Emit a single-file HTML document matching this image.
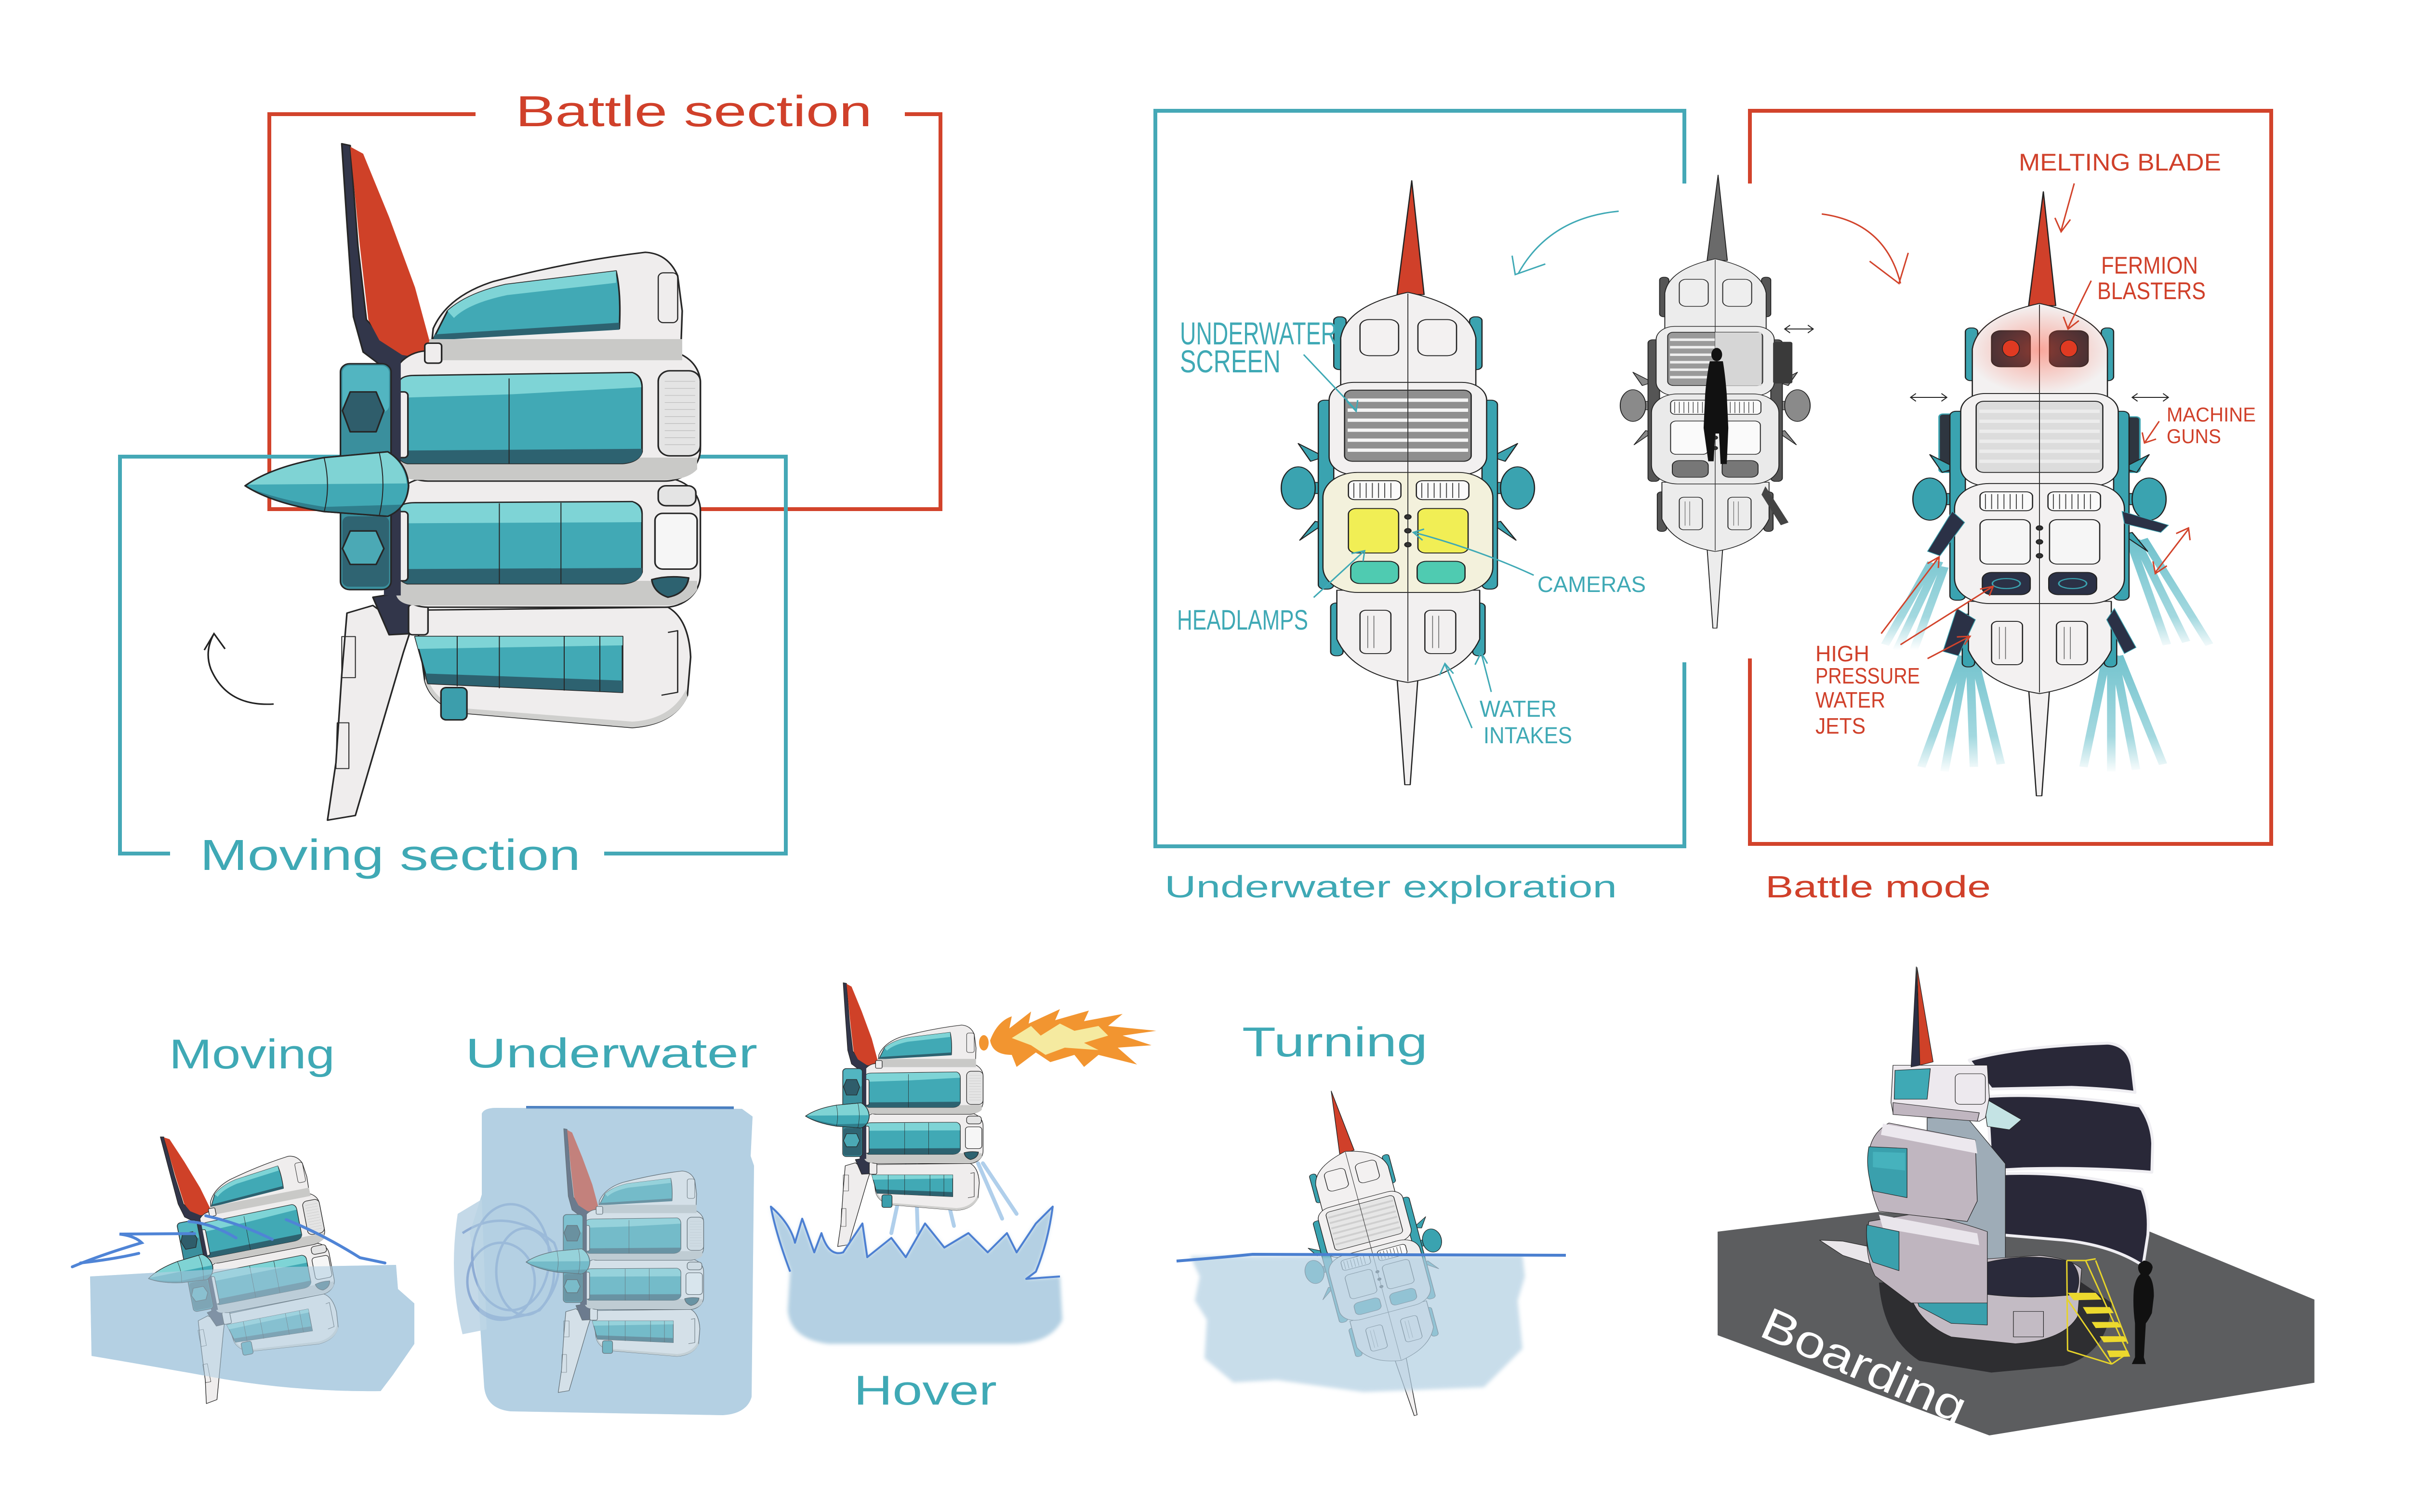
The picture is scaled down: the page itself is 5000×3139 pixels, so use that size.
<!DOCTYPE html>
<html><head><meta charset="utf-8"><style>html,body{margin:0;padding:0;background:#fff}svg{display:block}text{font-family:"Liberation Sans",sans-serif}</style></head><body>
<svg xmlns="http://www.w3.org/2000/svg" xmlns:xlink="http://www.w3.org/1999/xlink" width="5000" height="3139" viewBox="0 0 5000 3139">
<defs>
<!-- side view ship -->
<g id="sv" transform="scale(1.346,1.218)" stroke="#262626" stroke-width="2.5" stroke-linejoin="round">
 <polygon points="527,245 540,248 552,420 565,545 600,585 655,610 630,640 590,625 560,600 545,540 535,380" fill="#32364a"/>
 <polygon points="540,250 560,262 600,370 640,490 662,580 658,612 620,605 585,580 568,545 555,420" fill="#cf4128" stroke="none"/>
 <path d="M535,1045 L575,1032 L632,1078 L622,1112 L548,1390 L505,1398 L518,1300 L527,1150 Z" fill="#efeded"/>
 <path d="M527,1085 L548,1085 L548,1155 L527,1155 Z M520,1232 L538,1232 L538,1310 L518,1310 Z" fill="none" stroke-width="1.5"/>
 <path d="M575,1018 L632,1008 L634,1080 L600,1082 Z" fill="#32364a"/>
 <!-- pod3 -->
 <path d="M640,1040 L1030,1035 Q1062,1055 1065,1120 L1060,1185 Q1040,1235 975,1240 L710,1215 Q665,1200 655,1160 Z" fill="#efeded"/>
 <path d="M658,1150 Q668,1195 712,1207 L975,1230 Q1035,1226 1058,1175 L1060,1188 Q1040,1235 975,1240 L710,1215 Q665,1200 655,1160 Z" fill="#cfcfcd" stroke="none"/>
 <path d="M640,1085 L960,1085 L960,1180 L660,1165 Z" fill="#41a9b5"/>
 <path d="M640,1085 L960,1085 L960,1100 L645,1106 Z" fill="#7ed4d6" stroke="none"/>
 <path d="M656,1148 L960,1160 L960,1180 L660,1165 Z" fill="#2d6270" stroke="none"/>
 <path d="M705,1085 V1170 M770,1085 V1173 M870,1085 V1177 M925,1085 V1179" fill="none" stroke-width="1.5"/>
 <path d="M1030,1078 L1045,1075 L1045,1180 L1020,1185" fill="none" stroke-width="2"/>
 <rect x="680" y="1172" width="40" height="55" rx="8" fill="#3c9eac"/>
 <rect x="630" y="1030" width="30" height="52" rx="6" fill="#efeded"/>
 <!-- pod2 -->
 <rect x="605" y="815" width="475" height="220" rx="55" fill="#efeded"/>
 <path d="M610,990 H1075 V1005 Q1060,1032 1025,1032 H640 Q612,1030 610,1010 Z" fill="#c9c9c7" stroke="none"/>
 <path d="M615,868 Q618,857 640,857 L975,855 Q990,860 990,875 L990,975 Q985,993 960,995 L628,995 Q615,990 615,980 Z" fill="#41a9b5"/>
 <path d="M617,866 Q620,858 640,858 L975,856 Q988,861 989,876 L989,890 L617,892 Z" fill="#7ed4d6" stroke="none"/>
 <path d="M615,970 L990,968 L990,978 Q985,993 960,995 L628,995 Q615,990 615,982 Z" fill="#2d6270" stroke="none"/>
 <path d="M770,858 V995 M865,857 V995" fill="none" stroke-width="1.5"/>
 <rect x="1010" y="875" width="65" height="95" rx="12" fill="#f6f6f6"/>
 <rect x="1015" y="828" width="58" height="34" rx="12" fill="#e4e4e4"/>
 <path d="M1005,988 Q1030,980 1062,985 Q1058,1012 1030,1018 Q1008,1010 1005,988 Z" fill="#2d6270"/>
 <rect x="605" y="872" width="24" height="118" rx="6" fill="#efeded"/>
 <!-- pod1 -->
 <rect x="605" y="598" width="475" height="222" rx="55" fill="#efeded"/>
 <path d="M610,780 H1075 V800 Q1060,818 1025,818 H640 Q612,815 610,800 Z" fill="#c9c9c7" stroke="none"/>
 <path d="M615,652 Q618,640 640,640 L975,635 Q990,640 990,660 L990,770 Q985,788 960,790 L628,790 Q615,786 615,775 Z" fill="#41a9b5"/>
 <path d="M617,650 Q620,641 640,641 L975,636 Q988,641 989,660 L790,672 L617,678 Z" fill="#7ed4d6" stroke="none"/>
 <path d="M615,768 L990,765 L990,772 Q985,788 960,790 L628,790 Q615,786 615,775 Z" fill="#2d6270" stroke="none"/>
 <path d="M785,645 V790" fill="none" stroke-width="1.5"/>
 <rect x="1015" y="632" width="65" height="145" rx="18" fill="#e4e4e4"/>
 <path d="M1025,650H1072M1025,662H1072M1025,674H1072M1025,686H1072M1025,698H1072M1025,710H1072M1025,722H1072M1025,734H1072M1025,746H1072M1025,758H1072" stroke="#bbb" stroke-width="1" fill="none"/>
 <rect x="605" y="668" width="24" height="112" rx="6" fill="#efeded"/>
 <!-- top pod -->
 <path d="M665,592 L668,560 Q690,505 760,480 Q880,445 995,430 Q1030,432 1045,470 L1052,530 L1050,592 Z" fill="#efeded"/>
 <path d="M668,578 L690,530 Q720,500 780,485 L950,462 Q958,500 955,560 L720,572 Z" fill="#41a9b5"/>
 <path d="M690,530 Q720,500 780,485 L950,462 L950,482 L782,503 Q722,517 700,542 Z" fill="#7ed4d6" stroke="none"/>
 <path d="M670,570 L955,550 L955,562 L668,580 Z" fill="#2d6270" stroke="none"/>
 <rect x="1015" y="465" width="30" height="85" rx="8" fill="none" stroke-width="1.8"/>
 <rect x="662" y="578" width="390" height="36" fill="#c9c9c7" stroke="none"/>
 <rect x="655" y="585" width="26" height="34" rx="5" fill="#efeded"/>
 <!-- column -->
 <rect x="592" y="605" width="26" height="410" fill="#32364a" stroke="none"/>
 <rect x="525" y="620" width="78" height="385" rx="14" fill="#3a8f9d"/>
 <rect x="528" y="623" width="72" height="80" rx="12" fill="#52b5c1" stroke="none"/>
 <polygon points="540,668 580,668 592,700 580,736 540,736 528,700" fill="#2f5d6b"/>
 <rect x="528" y="880" width="72" height="120" rx="10" fill="#2f6472" stroke="none"/>
 <polygon points="540,905 580,905 592,935 580,962 540,962 528,935" fill="#4ba9b5"/>
 <!-- cone -->
 <path d="M378,828 Q420,795 500,780 L598,770 Q628,790 630,828 Q628,866 598,880 L500,872 Q420,858 378,828 Z" fill="#41a9b5"/>
 <path d="M380,826 Q420,796 500,781 L598,771 Q624,790 627,824 Z" fill="#7fd3d4" stroke="none"/>
 <path d="M385,832 Q430,852 500,864 L622,860 Q612,875 598,880 L500,872 Q420,858 385,832 Z" fill="#2f7e8c" stroke="none"/>
 <path d="M378,828 Q420,795 500,780 L598,770 Q628,790 630,828 Q628,866 598,880 L500,872 Q420,858 378,828 Z" fill="none"/>
 <path d="M500,781 Q510,828 500,872 M585,772 Q596,826 585,878" fill="none" stroke-width="1.5"/>
</g>

<!-- top view ship, centered x=0 -->
<g id="tv" stroke="#222" stroke-width="1.6" stroke-linejoin="round">
 <g style="fill:var(--fin)">
  <path d="M-108,692 L-142,668 L-126,700 Z"/>
  <path d="M-108,812 L-140,842 L-120,808 Z"/>
  <path d="M108,692 L142,668 L126,700 Z"/>
  <path d="M108,812 L140,842 L120,808 Z"/>
  <rect x="-130" y="738" width="24" height="20"/>
  <rect x="106" y="738" width="24" height="20"/>
  <ellipse cx="-142" cy="748" rx="22" ry="38"/>
  <ellipse cx="142" cy="748" rx="22" ry="38"/>
 </g>
 <path d="M5,195 L21,400 L-14,400 Z" style="fill:var(--spike)"/>
 <g style="fill:var(--acc)">
  <rect x="-96" y="440" width="16" height="95" rx="7"/>
  <rect x="80" y="440" width="16" height="95" rx="7"/>
  <rect x="-116" y="590" width="20" height="340" rx="8"/>
  <rect x="96" y="590" width="20" height="340" rx="8"/>
  <rect x="-100" y="955" width="16" height="95" rx="7"/>
  <rect x="84" y="955" width="16" height="95" rx="7"/>
 </g>
 <g style="fill:var(--body)">
  <path d="M-14,1090 L13,1090 L3,1282 L-4,1282 Z"/>
  <path d="M-92,932 L93,932 L93,1020 Q73,1082 0,1098 Q-72,1082 -92,1020 Z"/>
  <path d="M-87,568 L-87,478 Q-80,420 0,396 Q80,420 88,478 L88,568 Z"/>
  <rect x="-102" y="558" width="204" height="166" rx="32"/>
 </g>
 <rect x="-110" y="720" width="220" height="216" rx="45" style="fill:var(--sec)"/>
 <rect x="-62" y="445" width="50" height="65" rx="12" style="fill:var(--win)"/>
 <rect x="13" y="445" width="50" height="65" rx="12" style="fill:var(--win)"/>
 <rect x="-82" y="572" width="164" height="128" rx="10" style="fill:var(--scr)"/>
 <path d="M-78,590H78M-78,608H78M-78,626H78M-78,644H78M-78,662H78M-78,680H78" style="stroke:var(--stripe)" stroke-width="6" fill="none"/>
 <path d="M0,398V1096" stroke="#333" stroke-width="1.2"/>
 <rect x="-77" y="735" width="68" height="34" rx="8" fill="#fafafa"/>
 <rect x="11" y="735" width="68" height="34" rx="8" fill="#fafafa"/>
 <path d="M-70,739V766M-62,739V766M-54,739V766M-46,739V766M-38,739V766M-30,739V766M-22,739V766M18,739V766M26,739V766M34,739V766M42,739V766M50,739V766M58,739V766M66,739V766" stroke="#444" stroke-width="1.2"/>
 <rect x="-77" y="785" width="65" height="80" rx="10" style="fill:var(--lamp)"/>
 <rect x="13" y="785" width="65" height="80" rx="10" style="fill:var(--lamp)"/>
 <rect x="-74" y="880" width="62" height="40" rx="12" style="fill:var(--lamp2)"/>
 <rect x="12" y="880" width="62" height="40" rx="12" style="fill:var(--lamp2)"/>
 <circle cx="0" cy="800" r="4" fill="#333"/><circle cx="0" cy="825" r="4" fill="#333"/><circle cx="0" cy="850" r="4" fill="#333"/>
 <rect x="-62" y="968" width="40" height="78" rx="8" fill="none"/>
 <rect x="22" y="968" width="40" height="78" rx="8" fill="none"/>
 <path d="M-52,978V1036M-44,978V1036M32,978V1036M40,978V1036" stroke="#666" stroke-width="1"/>
</g>
<radialGradient id="glow"><stop offset="0" stop-color="#ff4a30" stop-opacity="0.45"/><stop offset="1" stop-color="#ff4a30" stop-opacity="0"/></radialGradient>
<linearGradient id="jl" gradientUnits="userSpaceOnUse" x1="0" y1="1040" x2="0" y2="1262"><stop offset="0" stop-color="#6fc1cc" stop-opacity="1"/><stop offset="0.7" stop-color="#7cc8d2" stop-opacity="0.7"/><stop offset="1" stop-color="#7cc8d2" stop-opacity="0"/></linearGradient>
<linearGradient id="ju" gradientUnits="userSpaceOnUse" x1="0" y1="840" x2="0" y2="1040"><stop offset="0" stop-color="#6fc1cc" stop-opacity="1"/><stop offset="0.7" stop-color="#7cc8d2" stop-opacity="0.7"/><stop offset="1" stop-color="#7cc8d2" stop-opacity="0"/></linearGradient>
<filter id="soft" x="-5%" y="-5%" width="110%" height="110%"><feGaussianBlur stdDeviation="4"/></filter>
</defs>

<!-- ================= TOP LEFT ================= -->
<g fill="none" stroke-width="8">
 <path d="M987,237 H559 V1057 H1952 V237 H1878" stroke="#d2432b"/>
 <path d="M353,1772 H249 V948 H1631 V1772 H1254" stroke="#45a8b6"/>
</g>
<use href="#sv" xlink:href="#sv"/>
<g transform="scale(1.346,1.218)" fill="none" stroke="#222" stroke-width="2.5">
 <path d="M422,1200 Q350,1205 325,1140 Q315,1110 330,1080"/>
 <path d="M315,1108 L330,1080 L347,1106"/>
</g>
<text x="1070" y="262" font-size="90" fill="#d0402a" textLength="740" lengthAdjust="spacingAndGlyphs">Battle section</text>
<text x="415" y="1806" font-size="90" fill="#3fa9b5" textLength="790" lengthAdjust="spacingAndGlyphs">Moving section</text>

<!-- ================= TOP RIGHT ================= -->
<g fill="none" stroke-width="8">
 <path d="M3496,381 V230 H2398 V1757 H3496 V1375" stroke="#45a8b6"/>
 <path d="M3632,381 V230 H4714 V1752 H3632 V1367" stroke="#d2432b"/>
</g>
<g transform="translate(2350,150) scale(1.6026,1.1538)">
 <!-- battle jets -->
 <g stroke-width="11" stroke-linecap="butt" fill="none">
  <path stroke="url(#ju)" d="M1045,880 L990,1040 M1035,882 L975,1030 M1052,890 L1012,1040"/>
  <path stroke="url(#jl)" d="M1075,1050 L1022,1250 M1080,1050 L1052,1258 M1085,1050 L1090,1250 M1090,1052 L1125,1245"/>
  <path stroke="url(#jl)" d="M1262,1050 L1232,1250 M1268,1050 L1268,1258 M1272,1050 L1300,1255 M1278,1050 L1335,1245"/>
  <path stroke="url(#ju)" d="M1292,842 L1340,1030 M1300,842 L1365,1025 M1310,840 L1395,1030"/>
 </g>
 <!-- underwater ship -->
 <use href="#tv" xlink:href="#tv" transform="translate(357,0)" style="--body:#f2f0f0;--spike:#d0402a;--acc:#3aa3b0;--fin:#3aa3b0;--scr:#8f8f8f;--stripe:#f4f4f4;--sec:#f3f1dc;--lamp:#f1ee55;--lamp2:#4fcbb1;--win:#f3f1f1"/>
 <!-- gray ship -->
 <use href="#tv" xlink:href="#tv" transform="translate(755,38.75) scale(0.75)" style="--body:#ececec;--spike:#6a6a6a;--acc:#555;--fin:#8a8a8a;--scr:#9a9a9a;--stripe:#eee;--sec:#eaeaea;--lamp:#fafafa;--lamp2:#777;--win:#eee"/>
 <rect x="755" y="468" width="60" height="96" fill="#d6d6d6"/>
 <rect x="830" y="485" width="25" height="75" rx="3" fill="#3a3a3a"/>
 <polygon points="820,745 850,810 840,815 815,760" fill="#444"/>
 <ellipse cx="757" cy="508" rx="7" ry="12" fill="#111"/>
 <path d="M748,520 Q744,545 742,580 L740,640 L746,700 L753,700 L755,650 L760,650 L762,705 L770,705 L772,640 L770,580 Q768,545 765,520 Z" fill="#111"/>
 <!-- battle ship -->
 <rect x="1045" y="615" width="35" height="105" rx="5" fill="#2e3640" stroke="#3aa3b0" stroke-width="2"/>
 <rect x="1270" y="620" width="35" height="100" rx="5" fill="#2e3640" stroke="#3aa3b0" stroke-width="2"/>
 <use href="#tv" xlink:href="#tv" transform="translate(1175,20)" style="--body:#f3f1f1;--spike:#d0402a;--acc:#3aa3b0;--fin:#3aa3b0;--scr:#dcdcdc;--stripe:#ececec;--sec:#f3f1f1;--lamp:#f6f6f6;--lamp2:#2b3146;--win:#2d2d35"/>
 <ellipse cx="1175" cy="500" rx="95" ry="80" fill="url(#glow)"/>
 <ellipse cx="1138" cy="497" rx="11" ry="15" fill="#e03a22" stroke="#222" stroke-width="1"/>
 <ellipse cx="1213" cy="497" rx="11" ry="15" fill="#e03a22" stroke="#222" stroke-width="1"/>
 <ellipse cx="1132" cy="920" rx="18" ry="9" fill="none" stroke="#3aa3b0" stroke-width="2"/>
 <ellipse cx="1218" cy="920" rx="18" ry="9" fill="none" stroke="#3aa3b0" stroke-width="2"/>
 <g fill="#2b3146" stroke="#3aa3b0" stroke-width="1">
  <polygon points="1062,790 1030,862 1046,870 1078,810"/>
  <polygon points="1282,790 1342,815 1332,828 1285,812"/>
  <polygon points="1068,965 1050,1042 1070,1050 1092,985"/>
  <polygon points="1272,965 1300,1035 1285,1046 1262,985"/>
 </g>
 <!-- annotations teal -->
 <g fill="none" stroke="#3fa9b5" stroke-width="3">
  <path d="M630,250 Q540,262 500,362" vector-effect="non-scaling-stroke"/>
  <path d="M492,330 L496,364 L535,345" vector-effect="non-scaling-stroke"/>
  <path d="M222,508 L290,608 M278,592 L290,610 L292,590" vector-effect="non-scaling-stroke"/>
  <path d="M235,945 L300,862 M284,866 L301,861 L299,880" vector-effect="non-scaling-stroke"/>
  <path d="M520,905 Q450,860 365,828 M378,822 L364,828 L376,842" vector-effect="non-scaling-stroke"/>
  <path d="M440,1180 L405,1065 M398,1085 L405,1064 L416,1082" vector-effect="non-scaling-stroke"/>
  <path d="M465,1115 L452,1045 M444,1066 L452,1044 L460,1064" vector-effect="non-scaling-stroke"/>
 </g>
 <!-- annotations red -->
 <g fill="none" stroke="#d2432b" stroke-width="3">
  <path d="M893,255 Q975,270 995,380" vector-effect="non-scaling-stroke"/>
  <path d="M955,340 L993,380 L1005,325" vector-effect="non-scaling-stroke"/>
  <path d="M1220,200 L1203,285 M1195,262 L1203,287 L1215,265" vector-effect="non-scaling-stroke"/>
  <path d="M1242,375 L1212,460 M1206,440 L1212,462 L1226,447" vector-effect="non-scaling-stroke"/>
  <path d="M1330,628 L1312,665 M1308,648 L1311,667 L1326,660" vector-effect="non-scaling-stroke"/>
  <path d="M970,1010 L1045,872 M1030,884 L1045,872 L1044,892" vector-effect="non-scaling-stroke"/>
  <path d="M995,1030 L1115,925 M1098,930 L1115,925 L1110,942" vector-effect="non-scaling-stroke"/>
  <path d="M1030,1055 L1085,1015 M1068,1016 L1085,1015 L1078,1030" vector-effect="non-scaling-stroke"/>
  <path d="M1325,900 L1368,822 M1322,880 L1325,902 L1340,888 M1352,830 L1368,820 L1370,842" vector-effect="non-scaling-stroke"/>
 </g>
 <g fill="none" stroke="#222" stroke-width="2">
  <path d="M845,462 H882 M852,455 L845,462 L852,469 M875,455 L882,462 L875,469" vector-effect="non-scaling-stroke"/>
  <path d="M1008,585 H1055 M1015,578 L1008,585 L1015,592 M1048,578 L1055,585 L1048,592" vector-effect="non-scaling-stroke"/>
  <path d="M1295,585 H1342 M1302,578 L1295,585 L1302,592 M1335,578 L1342,585 L1335,592" vector-effect="non-scaling-stroke"/>
 </g>
</g>
<!-- labels top right -->
<g fill="#3fa9b5" font-size="64">
 <text x="2449" y="715" font-size="66" textLength="326" lengthAdjust="spacingAndGlyphs">UNDERWATER</text>
 <text x="2449" y="773" font-size="66" textLength="209" lengthAdjust="spacingAndGlyphs">SCREEN</text>
 <text x="2443" y="1307" font-size="58" textLength="272" lengthAdjust="spacingAndGlyphs">HEADLAMPS</text>
 <text x="3191" y="1229" font-size="46" textLength="225" lengthAdjust="spacingAndGlyphs">CAMERAS</text>
 <text x="3071" y="1488" font-size="48" textLength="160" lengthAdjust="spacingAndGlyphs">WATER</text>
 <text x="3079" y="1543" font-size="48" textLength="184" lengthAdjust="spacingAndGlyphs">INTAKES</text>
 <text x="2417" y="1863" textLength="939" lengthAdjust="spacingAndGlyphs">Underwater exploration</text>
</g>
<g fill="#d0402a" font-size="50">
 <text x="4190" y="354" textLength="420" lengthAdjust="spacingAndGlyphs">MELTING BLADE</text>
 <text x="4361" y="568" textLength="201" lengthAdjust="spacingAndGlyphs">FERMION</text>
 <text x="4353" y="621" textLength="225" lengthAdjust="spacingAndGlyphs">BLASTERS</text>
 <text x="4497" y="875" font-size="42" textLength="185" lengthAdjust="spacingAndGlyphs">MACHINE</text>
 <text x="4497" y="920" font-size="42" textLength="113" lengthAdjust="spacingAndGlyphs">GUNS</text>
 <text x="3768" y="1373" font-size="46" textLength="112" lengthAdjust="spacingAndGlyphs">HIGH</text>
 <text x="3768" y="1419" font-size="46" textLength="217" lengthAdjust="spacingAndGlyphs">PRESSURE</text>
 <text x="3768" y="1469" font-size="46" textLength="145" lengthAdjust="spacingAndGlyphs">WATER</text>
 <text x="3768" y="1523" font-size="46" textLength="104" lengthAdjust="spacingAndGlyphs">JETS</text>
 <text x="3664" y="1863" font-size="64" textLength="468" lengthAdjust="spacingAndGlyphs">Battle mode</text>
</g>

<!-- ================= BOTTOM ROW ================= -->
<g fill="#3fa9b5" font-size="86">
 <text x="351" y="2218" textLength="344" lengthAdjust="spacingAndGlyphs">Moving</text>
 <text x="966" y="2216" textLength="606" lengthAdjust="spacingAndGlyphs">Underwater</text>
 <text x="1772" y="2916" textLength="297" lengthAdjust="spacingAndGlyphs">Hover</text>
 <text x="2578" y="2193" textLength="385" lengthAdjust="spacingAndGlyphs">Turning</text>
</g>

<!-- Moving scene -->
<path d="M187,2650 L500,2632 L822,2626 L826,2676 L860,2706 L860,2790 L815,2855 L790,2888 Q600,2890 420,2855 Q280,2830 190,2815 Z" fill="#b4d0e3"/>
<use href="#sv" xlink:href="#sv" transform="translate(493,2615) rotate(-11) scale(0.4) translate(-981,-1000)"/>
<path d="M187,2650 L500,2632 L822,2626 L826,2676 L860,2706 L860,2790 L815,2855 L790,2888 Q600,2890 420,2855 Q280,2830 190,2815 Z" fill="#b4d0e3" opacity="0.6"/>
<g fill="none" stroke="#4f84d6" stroke-width="6" stroke-linecap="round">
 <path d="M150,2630 Q210,2605 294,2580 Q280,2566 248,2562 L404,2561"/>
 <path d="M167,2622 Q237,2614 288,2602"/>
 <path d="M392,2536 Q438,2539 490,2570"/>
 <path d="M427,2524 Q496,2539 565,2573"/>
 <path d="M594,2532 Q669,2562 747,2611 L799,2622"/>
</g>

<!-- Underwater scene -->
<path d="M1000,2312 Q1005,2300 1030,2300 L1540,2302 L1562,2318 L1558,2400 L1565,2420 L1560,2900 Q1550,2935 1500,2938 L1060,2930 Q1010,2925 1005,2880 L990,2650 L975,2560 L1000,2480 Z" fill="#b4d0e3"/>
<path d="M950,2520 L1000,2490 L1010,2760 L960,2770 Q930,2650 950,2520 Z" fill="#c4d9e8"/>
<g fill="none" stroke="#6b8fc8" stroke-width="5" opacity="0.6">
 <ellipse cx="1060" cy="2610" rx="80" ry="110"/>
 <ellipse cx="1090" cy="2640" rx="60" ry="90"/>
 <ellipse cx="1040" cy="2660" rx="70" ry="80"/>
 <path d="M960,2560 Q1050,2500 1150,2580 Q1180,2650 1120,2720 Q1020,2760 980,2700"/>
</g>
<path d="M1092,2299 L1523,2300" stroke="#4a7fc0" stroke-width="6"/>
<use href="#sv" xlink:href="#sv" transform="translate(893.5,2226.8) scale(0.39)"/>
<path d="M1000,2312 Q1005,2300 1030,2300 L1540,2302 L1562,2318 L1558,2400 L1565,2420 L1560,2900 Q1550,2935 1500,2938 L1060,2930 Q1010,2925 1005,2880 L990,2650 L975,2560 L1000,2480 Z" fill="#b4d0e3" opacity="0.45"/>

<!-- Hover scene -->
<g stroke="#8fbbe3" stroke-width="8" opacity="0.7" stroke-linecap="round">
 <path d="M1880,2420 L1850,2560 M1900,2420 L1905,2560 M1950,2420 L1980,2545 M2030,2415 L2080,2530 M2040,2415 L2110,2520"/>
</g>
<use href="#sv" xlink:href="#sv" transform="translate(1473.5,1923.8) scale(0.39)"/>
<path d="M1640,2640 Q1610,2560 1600,2505 Q1640,2540 1650,2580 L1665,2530 L1690,2600 L1705,2560 Q1720,2610 1750,2600 L1790,2540 L1800,2610 L1850,2570 L1880,2610 L1920,2540 L1960,2590 L2010,2560 L2050,2600 L2090,2560 L2110,2600 L2150,2540 Q2170,2520 2185,2505 Q2175,2580 2150,2640 L2130,2655 L2200,2650 L2205,2740 Q2180,2790 2100,2790 L1720,2790 Q1640,2780 1635,2720 Z" fill="#b4d0e3" filter="url(#soft)"/>
<path d="M1640,2640 Q1610,2560 1600,2505 Q1640,2540 1650,2580 L1665,2530 L1690,2600 L1705,2560 Q1720,2610 1750,2600 L1790,2540 L1800,2610 L1850,2570 L1880,2610 L1920,2540 L1960,2590 L2010,2560 L2050,2600 L2090,2560 L2110,2600 L2150,2540 Q2170,2520 2185,2505 Q2175,2580 2150,2640 L2130,2655 L2200,2650" fill="none" stroke="#4c7fd2" stroke-width="4" stroke-linejoin="round"/>
<path d="M2055,2160 Q2070,2120 2100,2110 L2095,2135 L2140,2100 L2135,2125 L2200,2095 L2190,2118 L2260,2098 L2250,2120 L2330,2105 L2300,2130 L2400,2140 L2330,2150 L2390,2170 L2320,2175 L2360,2210 L2280,2190 L2250,2215 L2230,2190 L2180,2205 L2150,2185 L2110,2215 L2100,2190 Q2060,2190 2055,2160 Z" fill="#f29530"/>
<path d="M2100,2155 L2140,2130 L2160,2150 L2200,2125 L2230,2140 L2280,2130 L2300,2150 L2250,2165 L2280,2180 L2210,2175 L2170,2190 L2140,2170 Z" fill="#f5eaa0"/>
<ellipse cx="2042" cy="2165" rx="10" ry="16" fill="#f29530"/>

<!-- Turning scene -->
<use href="#tv" xlink:href="#tv" transform="translate(2763,2265) rotate(-15) scale(0.889,0.640) translate(-5,-195)" style="--body:#f2f0f0;--spike:#d0402a;--acc:#3aa3b0;--fin:#3aa3b0;--scr:#e6e6e6;--stripe:#cfcfcf;--sec:#eeeeee;--lamp:#eaeaea;--lamp2:#3aa3b0;--win:#f3f1f1"/>
<path d="M2470,2608 L3160,2606 L3165,2650 L3150,2700 L3160,2800 L3110,2850 L3080,2880 L2830,2890 L2650,2865 L2560,2870 L2500,2820 L2505,2740 L2480,2700 L2490,2650 Z" fill="#b4d0e3" opacity="0.72" filter="url(#soft)"/>
<path d="M2442,2618 Q2520,2612 2600,2604 L3250,2606" fill="none" stroke="#4a7fd0" stroke-width="6"/>

<!-- Boarding scene -->
<g transform="translate(3550,2000) scale(0.833,0.705)" stroke-linejoin="round">
 <polygon points="18,790 420,732 1095,790 1505,990 1505,1235 695,1390 18,1095" fill="#5c5d5f"/>
 <path d="M420,940 Q430,1100 520,1170 L700,1205 L880,1185 Q990,1150 1000,1000 L900,920 Z" fill="#2e2e31"/>
 <g fill="#292838" stroke="#efeef2" stroke-width="6">
  <path d="M645,285 Q760,245 990,235 Q1040,240 1050,300 L1058,380 Q1000,370 900,365 L700,370 Z" vector-effect="non-scaling-stroke"/>
  <path d="M690,392 Q850,380 1070,420 Q1100,470 1102,530 L1100,615 Q950,600 780,605 L700,610 Z" vector-effect="non-scaling-stroke"/>
  <path d="M720,620 Q900,610 1075,665 Q1095,720 1090,800 L1078,890 Q1000,830 880,815 L730,800 Z" vector-effect="non-scaling-stroke"/>
 </g>
 <g stroke="#222" stroke-width="1.5">
  <polygon points="272,815 330,818 420,840 410,890 330,860" fill="#e9e6ea"/>
  <path d="M540,455 L640,455 L735,590 L735,900 L700,910 L540,905 Z" fill="#9eacb7"/>
  <path d="M495,970 Q520,1060 600,1100 L760,1120 Q880,1110 915,1040 L925,900 Q900,870 820,860 L690,870 L690,960 Z" fill="#c3bbc4"/>
  <path d="M690,880 Q800,850 900,880 Q930,920 910,975 Q800,990 690,975 Z" fill="#2a2a3a"/>
  <polygon points="510,975 690,1000 690,1065 600,1060 520,1010" fill="#3aa0ad"/>
  <rect x="755" y="1025" width="75" height="75" fill="none"/>
  <path d="M395,760 Q380,850 410,920 L500,1000 L690,1000 L690,790 Q620,760 520,735 Z" fill="#bfb5bf"/>
  <polygon points="420,740 665,795 670,830 430,780" fill="#e9e5eb" stroke="none"/>
  <path d="M390,770 L470,790 L470,905 L405,880 Q385,830 390,770 Z" fill="#3aa0ad"/>
  <path d="M395,560 Q400,500 445,470 L660,520 L665,700 L640,760 L420,730 Q390,650 395,560 Z" fill="#c0b6c0"/>
  <polygon points="430,472 660,520 665,560 425,505" fill="#ece8ee" stroke="none"/>
  <path d="M395,540 L490,545 L490,690 L405,670 Q385,600 395,540 Z" fill="#3aa0ad"/>
  <path d="M405,555 L485,558 L485,610 L405,600 Z" fill="#46b2bd" stroke="none"/>
  <polygon points="680,395 775,460 745,490 690,480" fill="#c4e3e4"/>
  <path d="M455,300 L690,300 L695,395 L685,455 L670,465 L455,440 L450,410 Z" fill="#ede9ee"/>
  <polygon points="455,410 670,440 665,465 455,445" fill="#c0b6c0"/>
  <polygon points="460,315 548,310 540,400 458,400" fill="#3fa9b5"/>
  <rect x="610" y="325" width="75" height="90" rx="12" fill="none"/>
  <polygon points="513,10 522,300 500,305" fill="#2b2f45"/>
  <polygon points="515,12 555,290 522,300" fill="#cf4128"/>
 </g>
 <g fill="none" stroke="#e6d32a" stroke-width="3">
  <path d="M888,875 L890,1140 M935,875 L1040,1148 M888,875 L935,875 M960,875 L1040,1120 M935,875 L960,870 M890,1140 L1000,1180 M890,990 L1000,1180 M1040,1148 L1000,1180" vector-effect="non-scaling-stroke"/>
 </g>
 <g fill="#ecd92e">
  <polygon points="890,970 960,970 975,990 905,992"/>
  <polygon points="928,1012 995,1012 1005,1030 938,1032"/>
  <polygon points="950,1056 1015,1056 1025,1072 960,1074"/>
  <polygon points="970,1098 1030,1098 1038,1114 980,1116"/>
  <polygon points="988,1140 1040,1140 1046,1158 995,1160"/>
 </g>
 <path d="M1080,875 Q1100,878 1102,895 Q1100,910 1092,918 Q1105,935 1105,980 L1100,1030 Q1092,1050 1085,1060 L1080,1160 L1085,1180 L1050,1180 L1058,1160 L1058,1060 Q1052,1010 1055,960 Q1060,925 1072,915 Q1062,900 1068,885 Z" fill="#111"/>
</g>
<text transform="translate(3648,2772) rotate(24)" font-size="95" fill="#ffffff" textLength="455" lengthAdjust="spacingAndGlyphs">Boarding</text>
</svg>
</body></html>
